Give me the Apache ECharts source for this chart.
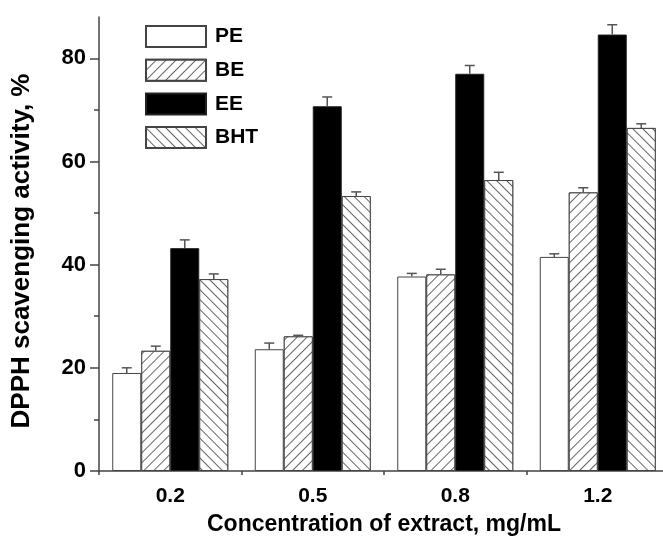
<!DOCTYPE html>
<html>
<head>
<meta charset="utf-8">
<script src="https://cdn.jsdelivr.net/npm/echarts@6/dist/echarts.min.js"></script>
<style>
html,body{margin:0;padding:0;background:#fff;}
#c{width:663px;height:536px;}
</style>
</head>
<body>
<div id="c"></div>
<script>
var categories = ['0.2', '0.5', '0.8', '1.2'];
var seriesNames = ['PE', 'BE', 'EE', 'BHT'];
var PE = [19.0, 23.6, 37.7, 41.5];
var BE = [23.3, 26.1, 38.1, 54.0];
var EE = [43.2, 70.7, 77.0, 84.6];
var BHT = [37.2, 53.3, 56.4, 66.5];
var PE_err = [1.0, 1.2, 0.6, 0.6];
var BE_err = [0.9, 0.2, 1.0, 0.9];
var EE_err = [1.6, 1.8, 1.6, 1.9];
var BHT_err = [1.0, 0.8, 1.5, 0.8];
var yMajorTicks = [0, 20, 40, 60, 80];
var yMinorTicks = [10, 30, 50, 70];

var values = [PE, BE, EE, BHT];
var errs = [PE_err, BE_err, EE_err, BHT_err];
var BAR_W = 29;
var font = '"Liberation Sans", Arial, sans-serif';

var styles = [
  {color: '#ffffff', borderColor: '#444', borderWidth: 1},
  {color: '#ffffff', borderColor: '#444', borderWidth: 1,
   decal: {symbol: 'rect', symbolSize: 1, dashArrayX: [[1, 0]], dashArrayY: [1, 6], rotation: -Math.PI / 4, color: '#666', backgroundColor: '#fff'}},
  {color: '#000000', borderColor: '#222', borderWidth: 1},
  {color: '#ffffff', borderColor: '#444', borderWidth: 1,
   decal: {symbol: 'rect', symbolSize: 1, dashArrayX: [[1, 0]], dashArrayY: [1, 6], rotation: Math.PI / 4, color: '#666', backgroundColor: '#fff'}}
];

var series = [];
seriesNames.forEach(function (name, k) {
  series.push({
    name: name, type: 'bar', barWidth: BAR_W, barGap: '0%',
    data: values[k], itemStyle: styles[k], emphasis: {disabled: true}, z: 2
  });
});
seriesNames.forEach(function (name, k) {
  series.push({
    type: 'custom', z: 5, silent: true,
    data: values[k].map(function (v, i) { return [i, v, errs[k][i]]; }),
    renderItem: function (params, api) {
      var i = api.value(0), v = api.value(1), e = api.value(2);
      var off = (k - 1.5) * BAR_W;
      var p0 = api.coord([i, v]);
      var p1 = api.coord([i, v + e]);
      var x = p0[0] + off;
      return {type: 'group', children: [
        {type: 'line', shape: {x1: x, y1: p0[1], x2: x, y2: p1[1]}, style: {stroke: '#555', lineWidth: 1.5}},
        {type: 'line', shape: {x1: x - 5, y1: p1[1], x2: x + 5, y2: p1[1]}, style: {stroke: '#555', lineWidth: 1.5}}
      ]};
    }
  });
});

var chart = echarts.init(document.getElementById('c'), null, {renderer: 'canvas'});
chart.setOption({
  animation: false,
  backgroundColor: '#fff',
  grid: {left: 99, top: 17, width: 570, height: 454, containLabel: false, outerBoundsMode: 'none'},
  legend: {
    data: seriesNames, orient: 'vertical', left: 145, top: 25, padding: 0,
    itemWidth: 60, itemHeight: 21, itemGap: 10.7, icon: 'rect',
    textStyle: {fontFamily: font, fontWeight: 'bold', fontSize: 21, lineHeight: 21, color: '#000', padding: [0, 0, 0, 4]},
    selectedMode: false
  },
  xAxis: [{
    type: 'category', data: categories, boundaryGap: true,
    name: 'Concentration of extract, mg/mL', nameLocation: 'middle', nameGap: 42,
    nameTextStyle: {fontFamily: font, fontWeight: 'bold', fontSize: 23, color: '#000'},
    axisLine: {lineStyle: {color: '#444', width: 1.5}},
    axisTick: {alignWithLabel: true, length: 7, lineStyle: {color: '#444', width: 1.5}},
    axisLabel: {fontFamily: font, fontWeight: 'bold', fontSize: 21, color: '#000', margin: 15}
  }, {
    type: 'category', data: categories, boundaryGap: true, position: 'bottom',
    axisLine: {show: false},
    axisTick: {show: true, interval: 0, length: 4, lineStyle: {color: '#444', width: 1.5}},
    axisLabel: {show: false}
  }],
  yAxis: [{
    type: 'value', min: 0, max: 88,
    name: 'DPPH scavenging activity, %', nameLocation: 'middle', nameGap: 64, nameRotate: 90,
    nameTextStyle: {fontFamily: font, fontWeight: 'bold', fontSize: 26, color: '#000', padding: [0, 14, 0, 0]},
    axisLine: {show: true, lineStyle: {color: '#444', width: 1.5}},
    axisTick: {show: true, length: 9, customValues: yMajorTicks, lineStyle: {color: '#444', width: 1.5}},
    axisLabel: {customValues: yMajorTicks, fontFamily: font, fontWeight: 'bold', fontSize: 22, color: '#000', margin: 13},
    splitLine: {show: false}
  }, {
    type: 'value', min: 0, max: 88, position: 'left',
    axisLine: {show: false},
    axisTick: {show: true, length: 5, customValues: yMinorTicks, lineStyle: {color: '#444', width: 1.5}},
    axisLabel: {show: false},
    splitLine: {show: false}
  }],
  series: series
});
</script>
</body>
</html>
